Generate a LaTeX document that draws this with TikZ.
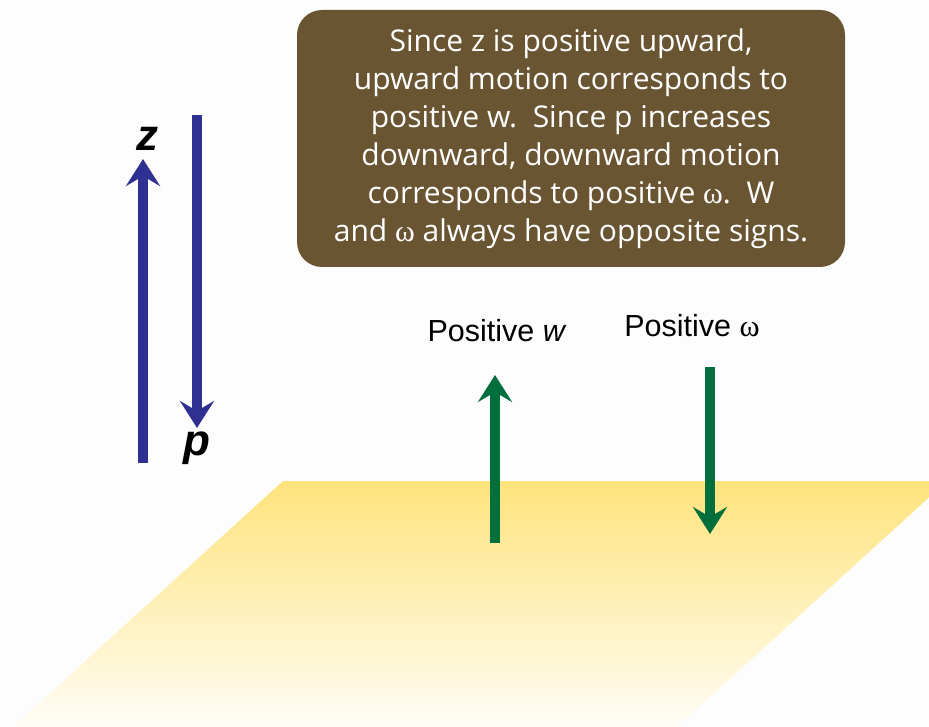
\documentclass[tikz,border=0pt]{standalone}
\usepackage{fontspec}
\setmainfont{Liberation Sans}
\newfontfamily\boxfont{Open Sans}
\newfontfamily\serifw{Liberation Serif}
\usetikzlibrary{arrows.meta}
\definecolor{bluearrow}{HTML}{2E3192}
\definecolor{greenarrow}{HTML}{006F3B}
\definecolor{boxbrown}{HTML}{6A5533}
\definecolor{planetop}{HTML}{FFE37C}
\definecolor{planebot}{HTML}{FFFDF6}
\definecolor{bgcol}{HTML}{FDFDFD}
\begin{document}
\begin{tikzpicture}[x=1pt,y=-1pt,
  bigarrow/.style={line width=10pt,-{Stealth[length=27pt,width=34pt,inset=10pt]}},
  bluearr/.style={bigarrow,draw=bluearrow,color=bluearrow},
  greenarr/.style={bigarrow,draw=greenarrow,color=greenarrow},
  axislabel/.style={font=\fontsize{44}{46}\selectfont\bfseries\itshape,inner sep=0pt},
  poslabel/.style={font=\fontsize{30.5}{34}\selectfont,inner sep=0pt},
  notebox/.style={fill=boxbrown,rounded corners=25pt,text=white,align=center,
    minimum width=548pt,minimum height=257pt,inner sep=0pt,
    font=\boxfont\fontsize{30}{38}\selectfont}]
\useasboundingbox (0,0) rectangle (929,727);
\fill[bgcol] (0,0) rectangle (929,727);
\begin{scope}
\clip (0,0) rectangle (929,727);
\shade[top color=planetop,bottom color=planebot] (283,481) -- (947,481) -- (677,727) -- (13,727) -- cycle;
\end{scope}
% axis arrows
\coordinate (zbot) at (143,463);
\coordinate (ztip) at (143,159);
\coordinate (ptop) at (197,115);
\coordinate (ptip) at (197,428);
\draw[bluearr] (zbot) -- (ztip);
\draw[bluearr] (ptop) -- (ptip);
\node[axislabel] (zlab) at (147,139) {z};
\node[axislabel] (plab) at (197,448) {p};
% note box
\node[notebox] (note) at (571,138.5) {Since z is positive upward,\\
upward motion corresponds to\\
positive w.\ \ Since p increases\\
downward, downward motion\\
corresponds to positive {\serifw ω}.\ \ W\\
and {\serifw ω} always have opposite signs.};
% positive labels and arrows
\node[poslabel] (wlab) at (497,331) {Positive \textit{w}};
\node[poslabel] (olab) at (692,326) {Positive {\serifw ω}};
\coordinate (wbot) at (495,543);
\coordinate (wtip) at (495,375);
\coordinate (otop) at (710,367);
\coordinate (otip) at (710,534);
\draw[greenarr] (wbot) -- (wtip);
\draw[greenarr] (otop) -- (otip);
\end{tikzpicture}
\end{document}
